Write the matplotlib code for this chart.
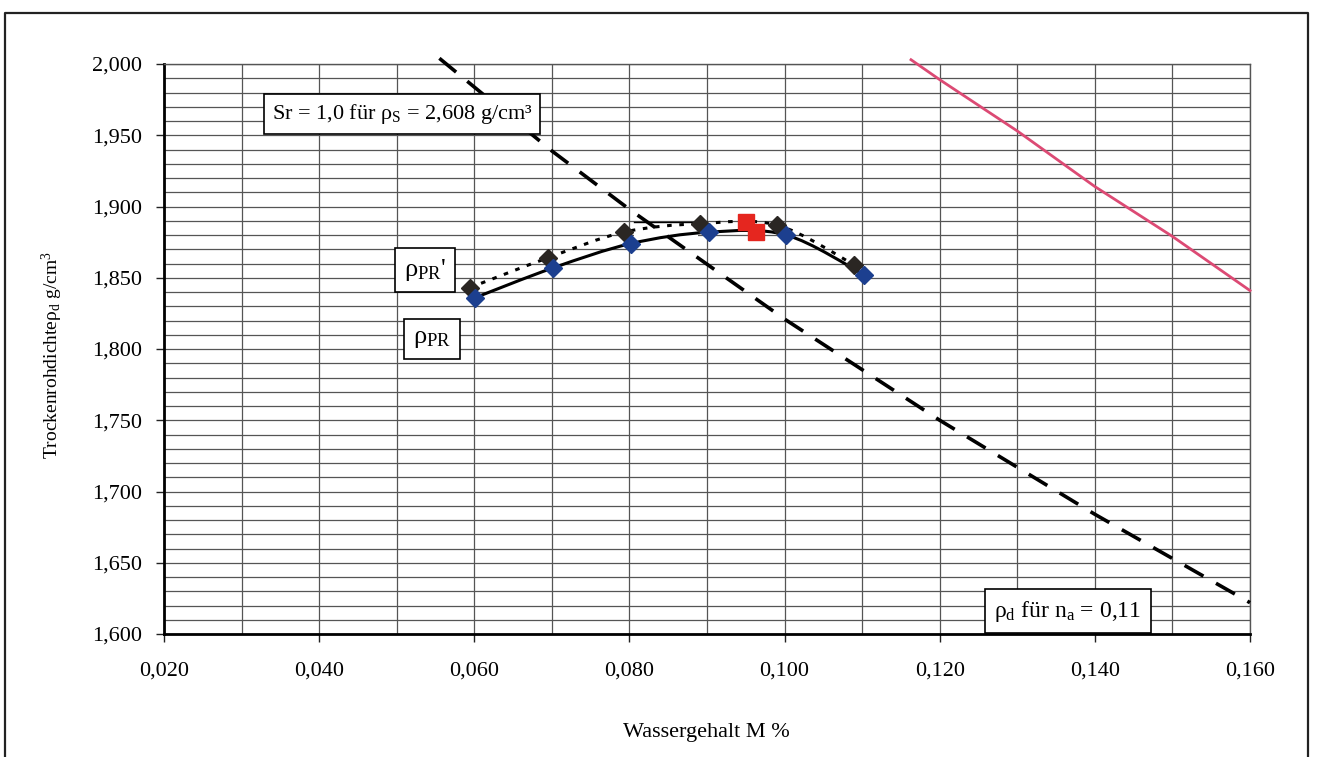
import matplotlib
matplotlib.use("Agg")
import matplotlib.pyplot as plt
import numpy as np
from matplotlib.path import Path
from matplotlib.patches import PathPatch, Rectangle
from matplotlib.lines import Line2D
from matplotlib.ticker import MultipleLocator, FixedLocator, FixedFormatter

plt.rcParams['font.family'] = ['Liberation Serif', 'DejaVu Serif']
plt.rcParams['mathtext.fontset'] = 'custom'
plt.rcParams['mathtext.rm'] = 'Liberation Serif'
plt.rcParams['mathtext.it'] = 'Liberation Serif:italic'

# ---------------- data ----------------
w_pr = [0.0601, 0.0702, 0.0802, 0.0903, 0.1002, 0.1103]
rho_pr = [1.836, 1.857, 1.874, 1.882, 1.880, 1.852]

w_prs = [0.0594, 0.0695, 0.0793, 0.0891, 0.0990, 0.1090]
rho_prs = [1.843, 1.864, 1.882, 1.888, 1.887, 1.859]

w_red = [0.0950, 0.0963]
rho_red = [1.889, 1.882]

w_na = [0.0555, 0.0700, 0.0800, 0.1000, 0.1200, 0.1400, 0.1600]
rho_na = [2.004, 1.939, 1.898, 1.821, 1.750, 1.684, 1.622]

w_sr = [0.1163, 0.1200, 0.1300, 0.1400, 0.1500, 0.1600]
rho_sr = [2.003, 1.989, 1.953, 1.914, 1.879, 1.841]

x_ticks = [0.020, 0.040, 0.060, 0.080, 0.100, 0.120, 0.140, 0.160]
x_ticklabels = ['0,020', '0,040', '0,060', '0,080', '0,100', '0,120', '0,140', '0,160']
y_ticks = [1.600, 1.650, 1.700, 1.750, 1.800, 1.850, 1.900, 1.950, 2.000]
y_ticklabels = ['1,600', '1,650', '1,700', '1,750', '1,800', '1,850', '1,900', '1,950', '2,000']

# ---------------- figure ----------------
W, H = 1319, 757
fig = plt.figure(figsize=(W / 100, H / 100), dpi=100)
fig.patch.set_facecolor('white')

def fx(px):
    return px / W

def fy(py):
    return 1 - py / H

# outer chart frame (left, top, right)
frame = Line2D([fx(5), fx(5), fx(1308), fx(1308)],
               [fy(760), fy(13), fy(13), fy(760)],
               transform=fig.transFigure, color='#222222', lw=1.6)
fig.add_artist(frame)

ax = fig.add_axes([fx(164), fy(634), (1250 - 164) / W, (634 - 64) / H])
ax.set_xlim(0.02, 0.16)
ax.set_ylim(1.6, 2.0)

ax.xaxis.set_major_locator(FixedLocator(x_ticks))
ax.xaxis.set_major_formatter(FixedFormatter(x_ticklabels))
ax.xaxis.set_minor_locator(MultipleLocator(0.01))
ax.yaxis.set_major_locator(FixedLocator(y_ticks))
ax.yaxis.set_major_formatter(FixedFormatter(y_ticklabels))
ax.yaxis.set_minor_locator(MultipleLocator(0.01))

ax.grid(True, which='both', color='#555555', lw=0.9)
ax.set_axisbelow(True)
ax.tick_params(axis='both', which='major', labelsize=16, length=6, width=1,
               direction='out', colors='#222222', labelcolor='black')
ax.tick_params(axis='x', which='major', pad=14)
ax.tick_params(axis='y', which='major', pad=10)
ax.tick_params(axis='both', which='minor', length=0)

for s in ['top', 'right']:
    ax.spines[s].set_color('#555555')
    ax.spines[s].set_linewidth(1.0)
for s in ['left', 'bottom']:
    ax.spines[s].set_color('black')
    ax.spines[s].set_linewidth(2.0)

# small white patch seen in the scan (covers grid near the peak)
ax.add_patch(Rectangle((0.0806, 1.877), 0.0082, 0.012, fc='white', ec='none', zorder=2))
ax.plot([0.0806, 0.0888], [1.889, 1.889], color='black', lw=1.0, zorder=2)

# smoothed line helper (Excel-style Bezier smoothing)
def smooth(xs, ys):
    pts = np.column_stack([xs, ys])
    n = len(pts)
    verts = [pts[0]]
    codes = [Path.MOVETO]
    for i in range(n - 1):
        p0 = pts[max(i - 1, 0)]
        p1 = pts[i]
        p2 = pts[i + 1]
        p3 = pts[min(i + 2, n - 1)]
        c1 = p1 + (p2 - p0) / 6.0
        c2 = p2 - (p3 - p1) / 6.0
        verts += [c1, c2, p2]
        codes += [Path.CURVE4] * 3
    return Path(verts, codes)

# Sr = 1 line (pink)
ax.plot(w_sr, rho_sr, color='#dc4a74', lw=2.0, clip_on=False, zorder=3)
# na = 0.11 line (dashed)
ax.plot(w_na, rho_na, color='black', lw=2.6, ls=(0, (6, 4)), clip_on=False, zorder=3)

# rho_PR' dotted
ax.add_patch(PathPatch(smooth(w_prs, rho_prs), fill=False, ec='black', lw=2.2,
                       ls=(0, (1.5, 2.5)), zorder=4))
# rho_PR solid
ax.add_patch(PathPatch(smooth(w_pr, rho_pr), fill=False, ec='black', lw=2.2, zorder=4))

ax.plot(w_prs, rho_prs, ls='none', marker='D', ms=9, mfc='#2a2623', mec='#2a2623', zorder=5)
ax.plot(w_pr, rho_pr, ls='none', marker='D', ms=9, mfc='#1c3f8f', mec='#1c3f8f', zorder=6)
ax.plot(w_red, rho_red, ls='none', marker='s', ms=11, mfc='#e5261f', mec='#e5261f', zorder=7)

# axis labels
fig.text(fx(706), fy(732), 'Wassergehalt M %', fontsize=16, ha='center', va='center')
fig.text(fx(52), fy(355), r'Trockenrohdichteρ$_{\mathregular{d}}$ g/cm$^{\mathregular{3}}$',
         fontsize=14, rotation=90, ha='center', va='center')

box = dict(boxstyle='square,pad=0.35', fc='white', ec='black', lw=1.2)

fig.text(fx(272), fy(114), r'Sr = 1,0 für ρ$_{\mathregular{S}}$ = 2,608 g/cm³',
         fontsize=16, ha='left', va='center', bbox=box, zorder=10)
fig.text(fx(425), fy(270), r"ρ$_{\mathregular{PR}}$'", fontsize=19,
         ha='center', va='center',
         bbox=dict(boxstyle='square,pad=0.35', fc='white', ec='black', lw=1.2), zorder=10)
fig.text(fx(432), fy(339), r'ρ$_{\mathregular{PR}}$', fontsize=19,
         ha='center', va='center',
         bbox=dict(boxstyle='square,pad=0.35', fc='white', ec='black', lw=1.2), zorder=10)
fig.text(fx(1068), fy(611), r'ρ$_{\mathregular{d}}$ für n$_{\mathregular{a}}$ = 0,11',
         fontsize=17, ha='center', va='center',
         bbox=dict(boxstyle='square,pad=0.4', fc='white', ec='black', lw=1.2), zorder=10)

fig.savefig('out.png', dpi=100, facecolor='white')
